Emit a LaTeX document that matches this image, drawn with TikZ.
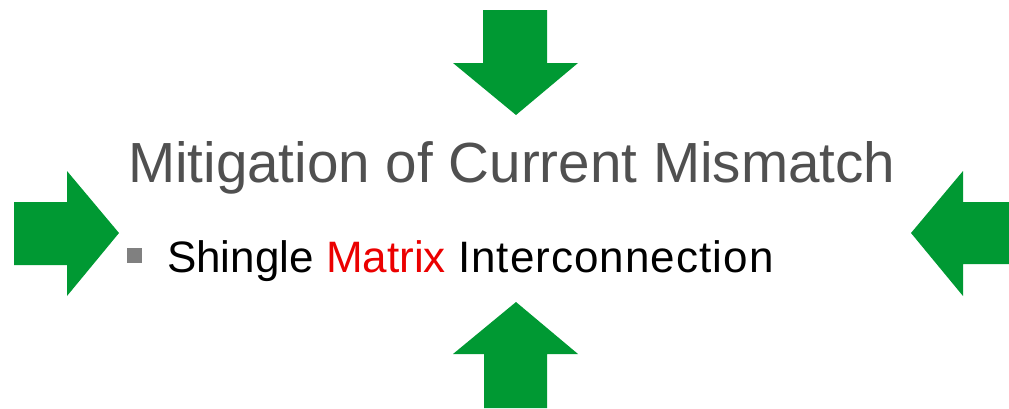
\documentclass[tikz,border=0pt]{standalone}
\usepackage{fontspec}
\setmainfont{Liberation Sans}
\definecolor{arrowgreen}{RGB}{0,153,51}
\definecolor{titlegray}{RGB}{80,80,80}
\definecolor{bulletgray}{RGB}{128,128,128}
\definecolor{matrixred}{RGB}{235,0,0}
\begin{document}
\begin{tikzpicture}[x=1pt,y=-1pt,
  bigarrow/.style={fill=arrowgreen,draw=none},
  txt/.style={anchor=base west,inner sep=0pt,outer sep=0pt}]
\useasboundingbox (0,0) rectangle (1009,408);
% arrows
\fill[bigarrow] (14,202) -- (67,202) -- (67,171) -- (119,233) -- (67,296) -- (67,265) -- (14,265) -- cycle;
\fill[bigarrow] (1009,202) -- (963,202) -- (963,171) -- (911,233) -- (963,296) -- (963,264) -- (1009,264) -- cycle;
\fill[bigarrow] (483,10) -- (547,10) -- (547,63) -- (578,63) -- (516,115) -- (453,63) -- (483,63) -- cycle;
\fill[bigarrow] (516,302) -- (578,354) -- (547,354) -- (547,408) -- (484,408) -- (484,354) -- (453,354) -- cycle;
% title
\node[txt,text=titlegray,font=\fontsize{56.6}{60}\selectfont] (title) at (128,182) {Mitigation of Current Mismatch};
% bullet
\fill[bulletgray] (127,248) rectangle (142,263);
\node[txt,font=\fontsize{44}{48}\selectfont] (item) at (167,272) {Shingle \textcolor{matrixred}{Matrix} {\addfontfeatures{LetterSpace=2.4}Interconnection}};
\end{tikzpicture}
\end{document}
